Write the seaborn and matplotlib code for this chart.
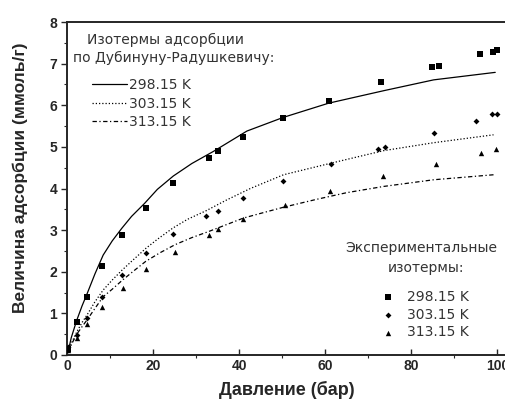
import numpy as np
import pandas as pd
import matplotlib
matplotlib.use("Agg")
import matplotlib.pyplot as plt
import seaborn as sns
from matplotlib.ticker import MultipleLocator

sns.set_style("ticks")
plt.rcParams["font.family"] = ["Liberation Sans", "DejaVu Sans"]

temps = ["298.15 K", "303.15 K", "313.15 K"]

# experimental points (pressure, bar / uptake, mmol/g)
p_298 = [0.3, 2.25, 4.7, 8.2, 12.7, 18.3, 24.7, 32.9, 35.2, 41.0, 50.3, 60.8, 73.0, 84.8, 86.5, 96.0, 98.9, 99.9]
a_298 = [0.15, 0.80, 1.39, 2.15, 2.88, 3.53, 4.14, 4.74, 4.89, 5.23, 5.69, 6.11, 6.55, 6.91, 6.94, 7.22, 7.27, 7.32]
p_303 = [0.3, 2.4, 4.7, 8.2, 12.7, 18.3, 24.6, 32.3, 35.0, 41.0, 50.3, 61.4, 72.2, 74.0, 85.2, 95.1, 98.8, 99.9]
a_303 = [0.20, 0.48, 0.90, 1.40, 1.92, 2.44, 2.90, 3.35, 3.47, 3.76, 4.17, 4.58, 4.96, 5.00, 5.33, 5.62, 5.78, 5.80]
p_313 = [0.3, 2.4, 4.7, 8.2, 12.9, 18.3, 25.1, 33.0, 35.2, 41.0, 50.7, 61.0, 73.4, 85.7, 96.2, 99.7]
a_313 = [0.13, 0.40, 0.75, 1.16, 1.62, 2.06, 2.48, 2.88, 3.02, 3.26, 3.60, 3.95, 4.31, 4.60, 4.86, 4.94]

# Dubinin-Radushkevich isotherms
fx_298 = [0.3, 1.0, 2.25, 3.5, 4.7, 6.5, 8.4, 10.5, 12.7, 15.0, 18.0, 21.0, 24.7, 29.0, 34.0, 41.8, 50.3, 60.8, 73.6, 85.2, 99.5]
fy_298 = [0.10, 0.42, 0.83, 1.18, 1.48, 1.95, 2.40, 2.74, 3.04, 3.33, 3.64, 3.98, 4.30, 4.60, 4.89, 5.38, 5.71, 6.05, 6.35, 6.61, 6.79]
fx_303 = [0.3, 1.0, 2.4, 3.5, 4.7, 6.5, 8.4, 10.5, 12.7, 15.0, 18.3, 21.0, 24.6, 28.0, 32.4, 37.0, 42.6, 50.3, 61.4, 73.6, 85.2, 99.1]
fy_303 = [0.08, 0.28, 0.58, 0.78, 0.97, 1.28, 1.56, 1.80, 2.03, 2.25, 2.56, 2.78, 3.05, 3.26, 3.47, 3.72, 4.00, 4.33, 4.61, 4.91, 5.10, 5.29]
fx_313 = [0.3, 1.0, 2.4, 3.5, 4.7, 6.5, 8.4, 10.5, 12.9, 15.5, 18.3, 21.5, 25.1, 29.0, 33.0, 37.0, 41.0, 44.9, 50.3, 58.0, 65.0, 73.6, 85.2, 99.1]
fy_313 = [0.07, 0.25, 0.52, 0.68, 0.85, 1.12, 1.40, 1.58, 1.80, 2.02, 2.25, 2.45, 2.65, 2.82, 2.97, 3.13, 3.29, 3.40, 3.55, 3.74, 3.90, 4.05, 4.21, 4.33]

exp_df = pd.concat([
    pd.DataFrame({"p": p_298, "a": a_298, "T": temps[0]}),
    pd.DataFrame({"p": p_303, "a": a_303, "T": temps[1]}),
    pd.DataFrame({"p": p_313, "a": a_313, "T": temps[2]}),
])
fit_df = pd.concat([
    pd.DataFrame({"p": fx_298, "a": fy_298, "T": temps[0]}),
    pd.DataFrame({"p": fx_303, "a": fy_303, "T": temps[1]}),
    pd.DataFrame({"p": fx_313, "a": fy_313, "T": temps[2]}),
])

W, H = 506, 405
fig = plt.figure(figsize=(W / 100, H / 100), dpi=100)
ax = fig.add_axes([67 / W, 50 / H, 439 / W, 333 / H])

line_styles = {temps[0]: "-", temps[1]: (0, (1, 1.6)), temps[2]: (0, (3.5, 2, 1, 2))}
markers = {temps[0]: "s", temps[1]: "D", temps[2]: "^"}
msize = {temps[0]: 13, temps[1]: 9, temps[2]: 15}

for t in temps:
    sub = fit_df[fit_df["T"] == t]
    sns.lineplot(data=sub, x="p", y="a", ax=ax, color="black", lw=0.9,
                 linestyle=line_styles[t], sort=False, label=t)
line_handles = ax.get_lines()[:3]

pt_handles = []
for t in temps:
    sub = exp_df[exp_df["T"] == t]
    h = ax.scatter(sub["p"], sub["a"], marker=markers[t], s=msize[t],
                   color="black", linewidths=0, label=t, zorder=3)
    pt_handles.append(h)

ax.set_xlim(0, 102)
ax.set_ylim(0, 8)
ax.xaxis.set_major_locator(MultipleLocator(20))
ax.xaxis.set_minor_locator(MultipleLocator(10))
ax.yaxis.set_major_locator(MultipleLocator(1))
ax.yaxis.set_minor_locator(MultipleLocator(0.5))
ax.tick_params(axis="x", which="major", direction="in", top=False)
ax.tick_params(axis="x", which="minor", direction="out", top=False)
ax.tick_params(axis="y", which="both", direction="out", right=False)
ax.tick_params(which="major", length=4, width=1.0, labelsize=10, pad=3)
ax.tick_params(which="minor", length=2.5, width=0.8)
for lab in ax.get_xticklabels() + ax.get_yticklabels():
    lab.set_fontweight("bold")

for side in ["left", "bottom", "top"]:
    ax.spines[side].set_linewidth(1.4)
ax.spines["right"].set_visible(False)

ax.set_xlabel("Давление (бар)", fontsize=13, fontweight="bold")
ax.set_ylabel("Величина адсорбции (ммоль/г)", fontsize=12.5, fontweight="bold")
ax.xaxis.set_label_coords((287 - 67) / 439, -(390 - 355) / 333)
ax.yaxis.set_label_coords(-(67 - 20) / 439, (355 - 178) / 333)
ax.xaxis.label.set_va("center")
ax.yaxis.label.set_va("center")

txt = dict(fontsize=10, color="#333333", family="DejaVu Sans", ha="center", va="center")
fig.text(166 / W, 1 - 40 / H, "Изотермы адсорбции", **txt)
fig.text(174 / W, 1 - 58 / H, "по Дубинуну-Радушкевичу:", **txt)
fig.text(421 / W, 1 - 248 / H, "Экспериментальные", **txt)
fig.text(426 / W, 1 - 268 / H, "изотермы:", **txt)

leg_font = {"family": "DejaVu Sans", "size": 10}
leg1 = ax.legend(line_handles, temps, loc="upper left",
                 bbox_to_anchor=(92 / W, 1 - 78 / H), bbox_transform=fig.transFigure,
                 frameon=False, prop=leg_font, labelcolor="#333333",
                 handlelength=2.5, handletextpad=0.15,
                 labelspacing=0.33, borderpad=0, borderaxespad=0)
ax.add_artist(leg1)

leg2 = ax.legend(pt_handles, temps, loc="upper left",
                 bbox_to_anchor=(381 / W, 1 - 290 / H), bbox_transform=fig.transFigure,
                 frameon=False, prop=leg_font, labelcolor="#333333",
                 handlelength=1.0, handletextpad=0.9,
                 labelspacing=0.27, borderpad=0, borderaxespad=0)

fig.savefig("out.png", dpi=100)
